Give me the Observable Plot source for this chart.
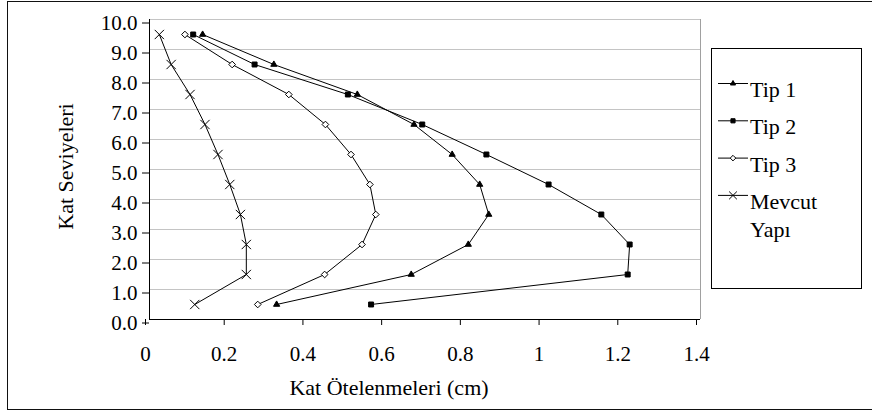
<!DOCTYPE html>
<html><head><meta charset="utf-8">
<script src="https://cdn.jsdelivr.net/npm/d3@7"></script>
<script src="https://cdn.jsdelivr.net/npm/@observablehq/plot@0.6"></script>
<style>
body{margin:0;background:#fff;}
#wrap{position:relative;width:872px;height:410px;overflow:hidden;background:#fff;font-family:Liberation Serif;}
#wrap > svg{position:absolute;left:0;top:0;}
#border{position:absolute;left:7px;top:1px;width:900px;height:409px;border:1px solid #111;box-sizing:border-box;pointer-events:none;}
#legend{position:absolute;left:0;top:0;pointer-events:none;}
</style></head>
<body>
<div id="wrap"><div id="border"></div></div>
<script>
// ---- data ----
const levels = [0.5, 1.5, 2.5, 3.5, 4.5, 5.5, 6.5, 7.5, 8.5, 9.5];
const tip1   = [0.323, 0.665, 0.810, 0.862, 0.839, 0.769, 0.672, 0.528, 0.316, 0.135];
const tip2   = [0.563, 1.215, 1.220, 1.148, 1.014, 0.856, 0.693, 0.504, 0.267, 0.111];
const tip3   = [0.275, 0.445, 0.540, 0.575, 0.560, 0.512, 0.447, 0.354, 0.210, 0.090];
const mevcut = [0.115, 0.246, 0.246, 0.231, 0.204, 0.174, 0.141, 0.103, 0.055, 0.025];
const seriesNames = ["Tip 1", "Tip 2", "Tip 3", "Mevcut Yapı"];
const xTicks = [0, 0.2, 0.4, 0.6, 0.8, 1, 1.2, 1.4];
const xTickLabels = ["0", "0.2", "0.4", "0.6", "0.8", "1", "1.2", "1.4"];
const yTicks = [0, 1, 2, 3, 4, 5, 6, 7, 8, 9, 10];
const yTickLabels = ["0.0","1.0","2.0","3.0","4.0","5.0","6.0","7.0","8.0","9.0","10.0"];
const xTitle = "Kat Ötelenmeleri (cm)";
const yTitle = "Kat Seviyeleri";

const FONT = "Liberation Serif";
const seriesValues = [tip1, tip2, tip3, mevcut];
const symbols = ["triangle", "square", "diamond2", "times"];
const symR = [2.3, 2.8, 3.0, 4.3];
const symFill = ["black", "black", "white", "none"];

const rows = [];
seriesNames.forEach((name, si) => {
  seriesValues[si].forEach((v, i) => rows.push({series: name, si, x: v, y: levels[i]}));
});

const marks = [
  Plot.ruleY(yTicks.filter(d => d > 0), {stroke: "#c4c4c4", strokeWidth: 1}),
  Plot.ruleX([1.4], {stroke: "#a0a0a0", strokeWidth: 1}),
  Plot.axisX({ticks: xTicks, tickFormat: d => xTickLabels[xTicks.indexOf(d)], tickSize: 6, tickPadding: 21, dx: -4, label: null, stroke: "black", fill: "black", fontFamily: FONT}),
  Plot.axisY({ticks: yTicks, tickFormat: d => yTickLabels[yTicks.indexOf(d)], tickSize: 7, tickPadding: 5, dy: 3.5, label: null, stroke: "black", fill: "black", fontFamily: FONT}),
  Plot.ruleX([0], {stroke: "black"}),
  Plot.ruleY([0], {stroke: "black"}),
];
seriesNames.forEach((name, si) => {
  const d = rows.filter(r => r.si === si);
  marks.push(Plot.line(d, {x: "x", y: "y", stroke: "black", strokeWidth: 1, curve: "linear"}));
  marks.push(Plot.dot(d, {x: "x", y: "y", symbol: () => symbols[si], r: symR[si], fill: symFill[si], stroke: "black", strokeWidth: 1}));
});
marks.push(Plot.text([xTitle], {frameAnchor: "bottom", textAnchor: "middle", lineAnchor: "middle", dx: -36, dy: 68, fontSize: 22, fill: "black", fontFamily: FONT}));
marks.push(Plot.text([yTitle], {frameAnchor: "left", textAnchor: "middle", lineAnchor: "middle", rotate: -90, dx: -84, dy: -3, fontSize: 22, fill: "black", fontFamily: FONT}));

const chart = Plot.plot({
  width: 872, height: 410,
  marginLeft: 149, marginRight: 172, marginTop: 19, marginBottom: 91,
  x: {domain: [0, 1.4]},
  y: {domain: [0, 10]},
  style: {fontFamily: FONT, fontSize: "21px", color: "black", background: "white", overflow: "visible"},
  marks
});
const wrap = document.getElementById("wrap");
wrap.insertBefore(chart, wrap.firstChild);

// ---- legend ----
const lg = d3.select(wrap).append("svg").attr("id", "legend").attr("width", 872).attr("height", 410);
lg.append("rect").attr("x", 711.5).attr("y", 48.5).attr("width", 150).attr("height", 240)
  .attr("fill", "white").attr("stroke", "black").attr("stroke-width", 1);
const d3sym = {triangle: d3.symbolTriangle, square: d3.symbolSquare, diamond2: d3.symbolDiamond2, times: d3.symbolTimes};
seriesNames.forEach((name, si) => {
  const my = 83.5 + 37.3 * si;
  const g = lg.append("g");
  g.append("line").attr("x1", 718).attr("x2", 748).attr("y1", my).attr("y2", my).attr("stroke", "black");
  g.append("path").attr("transform", `translate(733,${my})`)
    .attr("d", d3.symbol(d3sym[symbols[si]], Math.PI * symR[si] * symR[si] * 0.7)())
    .attr("fill", symFill[si]).attr("stroke", "black");
  const words = name === "Mevcut Yapı" ? ["Mevcut", "Yapı"] : [name];
  words.forEach((w, wi) => {
    g.append("text").attr("x", 750).attr("y", my + 13.5 + wi * 28)
      .attr("font-size", 22).attr("font-family", FONT)
      .attr("fill", "black").text(w);
  });
});
</script>
</body></html>
